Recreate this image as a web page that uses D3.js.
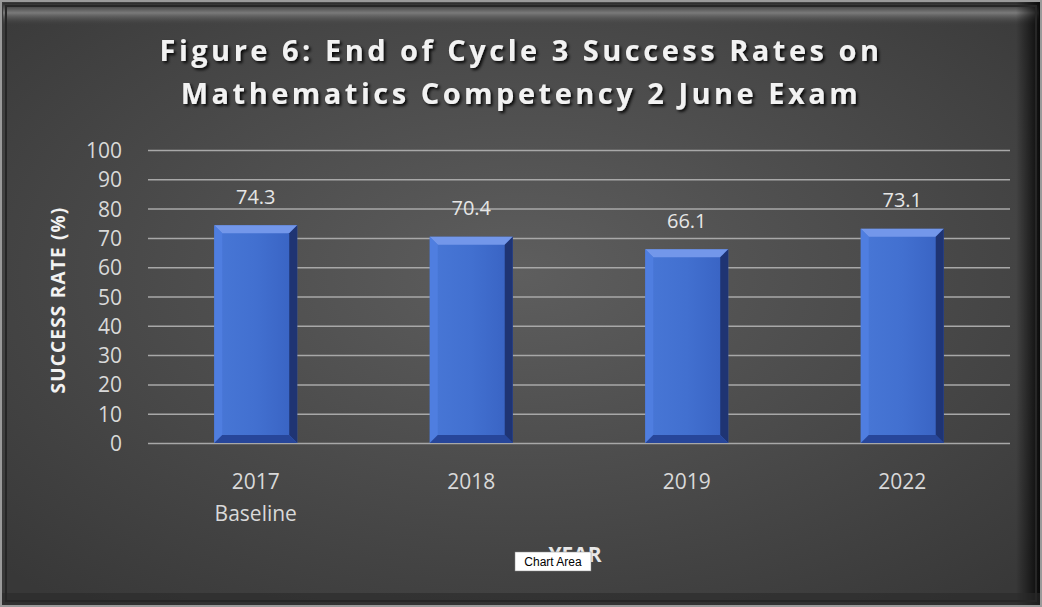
<!DOCTYPE html>
<html><head><meta charset="utf-8">
<script src="https://cdn.jsdelivr.net/npm/d3@7/dist/d3.min.js"></script>
<style>body{margin:0;background:#fff}svg{display:block}</style>
</head><body>
<script>
const categories = ["2017|Baseline", "2018", "2019", "2022"];
const values = [74.3, 70.4, 66.1, 73.1];
const yTicks = [0, 10, 20, 30, 40, 50, 60, 70, 80, 90, 100];
const titleLines = ["Figure 6: End of Cycle 3 Success Rates on", "Mathematics Competency 2 June Exam"];
const yTitle = "SUCCESS RATE (%)";
const xTitle = "YEAR";

const W = 1042, H = 607;
const svg = d3.select("body").append("svg").attr("width", W).attr("height", H);
const defs = svg.append("defs");

const bg = defs.append("radialGradient").attr("id","bg").attr("cx","50%").attr("cy","45%").attr("r","70%");
bg.append("stop").attr("offset","0%").attr("stop-color","#5e5e5e");
bg.append("stop").attr("offset","100%").attr("stop-color","#383838");

const topG = defs.append("linearGradient").attr("id","topG").attr("x1",0).attr("y1",0).attr("x2",0).attr("y2",1);
topG.append("stop").attr("offset","0%").attr("stop-color","#2c2c2c");
topG.append("stop").attr("offset","45%").attr("stop-color","#7a7a7a");
topG.append("stop").attr("offset","100%").attr("stop-color","#444").attr("stop-opacity",0);

const rightG = defs.append("linearGradient").attr("id","rightG").attr("x1",0).attr("y1",0).attr("x2",1).attr("y2",0);
rightG.append("stop").attr("offset","0%").attr("stop-color","#000").attr("stop-opacity",0);
rightG.append("stop").attr("offset","100%").attr("stop-color","#000").attr("stop-opacity",0.9);

const barG = defs.append("linearGradient").attr("id","barG").attr("x1",0).attr("y1",0).attr("x2",1).attr("y2",0);
barG.append("stop").attr("offset","0%").attr("stop-color","#4877d6");
barG.append("stop").attr("offset","50%").attr("stop-color","#4270d0");
barG.append("stop").attr("offset","100%").attr("stop-color","#3862c2");

const shadow = defs.append("filter").attr("id","tshadow").attr("x","-10%").attr("y","-30%").attr("width","120%").attr("height","160%");
shadow.append("feDropShadow").attr("dx",2).attr("dy",2).attr("stdDeviation",1.5).attr("flood-color","#000").attr("flood-opacity",0.9);

// background & frame
svg.append("rect").attr("width",W).attr("height",H).attr("fill","#2e2e2e");
svg.append("rect").attr("x",2).attr("y",2).attr("width",W-4).attr("height",H-4).attr("fill","url(#bg)");
svg.append("rect").attr("x",3).attr("y",3).attr("width",W-6).attr("height",22).attr("fill","url(#topG)");
svg.append("rect").attr("x",W-26).attr("y",0).attr("width",26).attr("height",H).attr("fill","url(#rightG)");
svg.append("rect").attr("x",0).attr("y",H-14).attr("width",W).attr("height",14).attr("fill","#2a2a2a").attr("opacity",0.6);
svg.append("rect").attr("x",1).attr("y",1).attr("width",W-2).attr("height",H-2).attr("fill","none").attr("stroke","#9a9a9a").attr("stroke-width",2);
svg.append("rect").attr("x",6).attr("y",6).attr("width",W-12).attr("height",H-12).attr("fill","none").attr("stroke","#262626").attr("stroke-width",2);

// title
const title = svg.append("text").attr("text-anchor","middle").attr("fill","#f2f2f2")
  .attr("font-family","'Open Sans', sans-serif").attr("font-weight","bold").attr("font-size",29)
  .attr("letter-spacing","3.5px").attr("filter","url(#tshadow)");
titleLines.forEach((t,i)=> title.append("tspan").attr("x",521).attr("y",61 + i*43).text(t));

// scales
const m = {left:148, right:1010, top:150, bottom:443};
const x = d3.scaleBand().domain(categories).range([m.left, m.right]).paddingInner(0.615).paddingOuter(0.3075);
const y = d3.scaleLinear().domain([0,100]).range([m.bottom, m.top]);

// gridlines
const grid = svg.append("g").attr("transform",`translate(${m.left},0)`)
  .call(d3.axisLeft(y).tickValues(yTicks).tickSize(-(m.right-m.left)).tickFormat(""));
grid.select(".domain").remove();
grid.selectAll("line").attr("stroke","#a8a8a8").attr("stroke-width",1.5);

// y tick labels
const yAx = svg.append("g").attr("transform",`translate(${m.left-26},0)`)
  .call(d3.axisLeft(y).tickValues(yTicks).tickSize(0).tickPadding(0));
yAx.select(".domain").remove();
yAx.selectAll("text").attr("fill","#d9d9d9").attr("font-family","'Open Sans', sans-serif").attr("font-size",21).attr("dy","0.36em");

// bars with bevel
const bw = x.bandwidth(), bv = 8;
const bars = svg.append("g").selectAll("g").data(values).join("g")
  .attr("transform",(d,i)=>`translate(${x(categories[i])},${y(d)})`);
bars.append("rect").attr("width",bw).attr("height",d=>y(0)-y(d)).attr("fill","url(#barG)");
bars.append("path").attr("d",d=>`M0,0 L${bw},0 L${bw-bv},${bv} L${bv},${bv} Z`).attr("fill","#7397ea");
bars.append("path").attr("d",d=>{const h=y(0)-y(d);return `M0,0 L${bv},${bv} L${bv},${h-bv} L0,${h} Z`;}).attr("fill","#4f7ee0");
bars.append("path").attr("d",d=>{const h=y(0)-y(d);return `M${bw},0 L${bw},${h} L${bw-bv},${h-bv} L${bw-bv},${bv} Z`;}).attr("fill","#1f3473");
bars.append("path").attr("d",d=>{const h=y(0)-y(d);return `M0,${h} L${bv},${h-bv} L${bw-bv},${h-bv} L${bw},${h} Z`;}).attr("fill","#27469a");

// value labels
svg.append("g").selectAll("text").data(values).join("text")
  .attr("x",(d,i)=>x(categories[i])+bw/2).attr("y",d=>y(d)-29).attr("dy","0.36em")
  .attr("text-anchor","middle").attr("fill","#e6e6e6")
  .attr("font-family","'Open Sans', sans-serif").attr("font-size",20)
  .text(d=>d.toFixed(1));

// x labels
const xl = svg.append("g").selectAll("text").data(categories).join("text")
  .attr("text-anchor","middle").attr("fill","#d9d9d9")
  .attr("font-family","'Open Sans', sans-serif").attr("font-size",21);
xl.each(function(c){
  const t = d3.select(this);
  c.split("|").forEach((s,i)=> t.append("tspan").attr("x",x(c)+bw/2).attr("y",489 + i*32).text(s));
});

// axis titles
svg.append("text").attr("transform","translate(65,300) rotate(-90)").attr("text-anchor","middle")
  .attr("fill","#f2f2f2").attr("font-family","'Open Sans', sans-serif").attr("font-weight","bold").attr("font-size",19)
  .attr("letter-spacing","1.2px")
  .text(yTitle);
svg.append("text").attr("x",575).attr("y",562).attr("text-anchor","middle")
  .attr("fill","#e8e8e8").attr("font-family","'Open Sans', sans-serif").attr("font-weight","bold").attr("font-size",21)
  .text(xTitle);

// tooltip
const tip = svg.append("g").attr("transform","translate(515,552)");
tip.append("rect").attr("width",76).attr("height",19).attr("fill","#ffffff").attr("stroke","#888").attr("stroke-width",0.5);
tip.append("text").attr("x",38).attr("y",14).attr("text-anchor","middle").attr("fill","#000")
  .attr("font-family","'Liberation Sans', Arial, sans-serif").attr("font-size",12).text("Chart Area");
</script>
</body></html>
